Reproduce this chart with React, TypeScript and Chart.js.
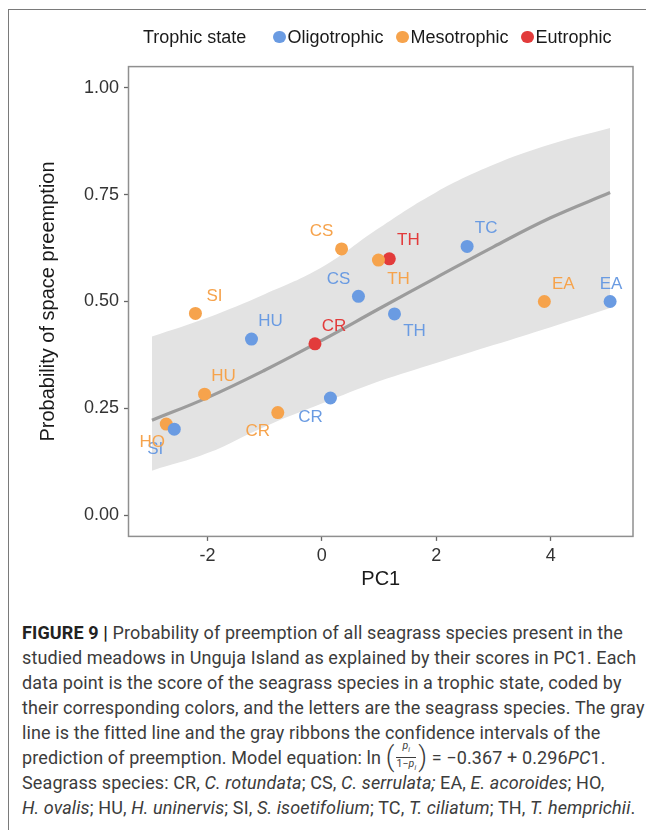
import React, { useEffect, useRef } from "react";
import { Chart, registerables } from "chart.js";

Chart.register(...registerables);

// ---------- data ----------
const fitPC1 = [-2.97, -2, -1, 0, 1, 2, 3, 4, 5.04];
const fitProb = [0.222, 0.275, 0.339, 0.409, 0.483, 0.556, 0.628, 0.696, 0.755];
const ribbonUpper = [0.418, 0.462, 0.517, 0.58, 0.672, 0.756, 0.82, 0.868, 0.906];
const ribbonLower = [0.104, 0.145, 0.207, 0.261, 0.313, 0.356, 0.398, 0.44, 0.485];

const oligoSpecies = ["TC", "CS", "TH", "EA", "HU", "CR", "SI"];
const oligoPC1 = [2.54, 0.64, 1.27, 5.04, -1.23, 0.15, -2.58];
const oligoProb = [0.629, 0.512, 0.471, 0.5, 0.412, 0.274, 0.201];

const mesoSpecies = ["SI", "CS", "TH", "EA", "HU", "CR", "HO"];
const mesoPC1 = [-2.21, 0.345, 0.99, 3.89, -2.05, -0.77, -2.72];
const mesoProb = [0.472, 0.623, 0.597, 0.5, 0.283, 0.24, 0.213];

const eutroSpecies = ["TH", "CR"];
const eutroPC1 = [1.18, -0.12];
const eutroProb = [0.6, 0.401];

const xTicks = [-2, 0, 2, 4];
const yTicks = [0, 0.25, 0.5, 0.75, 1];

const trophicStates = ["Oligotrophic", "Mesotrophic", "Eutrophic"];

// ---------- styling / label placement (pixels) ----------
const COLORS = ["#6a9be2", "#f6a34c", "#e23b3b"];
const oligoLabelOffsets = [[19, -18], [-20, -17], [20, 17], [1, -17], [19, -18], [-20, 19], [-19, 20]];
const mesoLabelOffsets = [[19, -17], [-20, -18], [20, 19], [19, -17], [19, -18], [-20, 19], [-14, 18]];
const eutroLabelOffsets = [[19, -18], [19, -17]];

const FONT = "'Liberation Sans', Arial, Helvetica, sans-serif";

const toXY = (xs: number[], ys: number[]) => xs.map((x, i) => ({ x, y: ys[i] }));

const panelBorder = {
  id: "panelBorder",
  afterDatasetsDraw(chart: any) {
    const { ctx, chartArea: a } = chart;
    ctx.save();
    ctx.strokeStyle = "#8f8f8f";
    ctx.lineWidth = 1.5;
    ctx.strokeRect(a.left, a.top, a.right - a.left, a.bottom - a.top);
    ctx.restore();
  },
};

const pointLabels = {
  id: "pointLabels",
  afterDatasetsDraw(chart: any) {
    const { ctx } = chart;
    ctx.save();
    ctx.font = `17px ${FONT}`;
    ctx.textAlign = "center";
    ctx.textBaseline = "middle";
    chart.data.datasets.forEach((ds: any, di: number) => {
      if (!ds.speciesLabels) return;
      const meta = chart.getDatasetMeta(di);
      meta.data.forEach((el: any, i: number) => {
        const off = ds.labelOffsets[i];
        ctx.fillStyle = ds.backgroundColor;
        ctx.fillText(ds.speciesLabels[i], el.x + off[0], el.y + off[1]);
      });
    });
    ctx.restore();
  },
};

function ChartCanvas() {
  const ref = useRef<HTMLCanvasElement | null>(null);
  useEffect(() => {
    if (!ref.current) return;
    const pointDs = (label: string, xs: number[], ys: number[], species: string[], offs: number[][], color: string) => ({
      label,
      data: toXY(xs, ys),
      showLine: false,
      pointRadius: 6.5,
      pointHoverRadius: 6.5,
      pointBorderWidth: 0,
      backgroundColor: color,
      borderColor: color,
      speciesLabels: species,
      labelOffsets: offs,
      order: 0,
    });
    const chart = new Chart(ref.current, {
      type: "line",
      data: {
        datasets: [
          {
            label: "lower",
            data: toXY(fitPC1, ribbonLower),
            borderWidth: 0,
            pointRadius: 0,
            fill: false,
            tension: 0.4,
            order: 3,
          } as any,
          {
            label: "upper",
            data: toXY(fitPC1, ribbonUpper),
            borderWidth: 0,
            pointRadius: 0,
            fill: "-1",
            backgroundColor: "#e3e3e3",
            tension: 0.4,
            order: 2,
          },
          {
            label: "fit",
            data: toXY(fitPC1, fitProb),
            borderColor: "#9c9c9c",
            borderWidth: 3.2,
            pointRadius: 0,
            fill: false,
            tension: 0.4,
            order: 1,
          },
          pointDs(trophicStates[0], oligoPC1, oligoProb, oligoSpecies, oligoLabelOffsets, COLORS[0]),
          pointDs(trophicStates[1], mesoPC1, mesoProb, mesoSpecies, mesoLabelOffsets, COLORS[1]),
          pointDs(trophicStates[2], eutroPC1, eutroProb, eutroSpecies, eutroLabelOffsets, COLORS[2]),
        ] as any,
      },
      options: {
        animation: false,
        responsive: false,
        maintainAspectRatio: false,
        layout: { padding: { left: 0, right: 21, top: 58.6, bottom: 0 } },
        plugins: { legend: { display: false }, tooltip: { enabled: false } },
        scales: {
          x: {
            type: "linear",
            min: -3.38,
            max: 5.44,
            afterBuildTicks: (s: any) => {
              s.ticks = xTicks.map((v) => ({ value: v }));
            },
            afterFit: (s: any) => {
              s.height = 71.6;
            },
            grid: { display: true, drawOnChartArea: false, drawTicks: true, tickLength: 4.5, tickColor: "#666", tickWidth: 1.3 },
            border: { display: false },
            ticks: { color: "#333", font: { family: FONT, size: 18 }, padding: 4, maxRotation: 0 },
            title: { display: true, text: "PC1", color: "#1a1a1a", font: { family: FONT, size: 20 }, padding: { top: 0, bottom: 17 } },
          },
          y: {
            type: "linear",
            min: -0.05,
            max: 1.05,
            afterBuildTicks: (s: any) => {
              s.ticks = yTicks.map((v) => ({ value: v }));
            },
            afterFit: (s: any) => {
              s.width = 120.5;
            },
            grid: { display: true, drawOnChartArea: false, drawTicks: true, tickLength: 4.5, tickColor: "#666", tickWidth: 1.3 },
            border: { display: false },
            ticks: {
              color: "#333",
              font: { family: FONT, size: 18 },
              padding: 5,
              callback: (v: any) => Number(v).toFixed(2),
            },
            title: {
              display: true,
              text: "Probability of space preemption",
              color: "#1a1a1a",
              font: { family: FONT, size: 20 },
              padding: { top: 28, bottom: 0 },
            },
          },
        },
      } as any,
      plugins: [panelBorder, pointLabels],
    });
    return () => chart.destroy();
  }, []);
  return <canvas ref={ref} width={646} height={600} style={{ position: "absolute", left: 0, top: 0, width: 646, height: 600 }} />;
}

function Legend() {
  const dot = (c: string) => (
    <span style={{ display: "inline-block", width: 12.5, height: 12.5, borderRadius: "50%", background: c, marginRight: 1.5 }} />
  );
  return (
    <div
      style={{
        position: "absolute",
        left: 135,
        top: 19,
        display: "flex",
        alignItems: "center",
        fontFamily: FONT,
        fontSize: 18,
        lineHeight: "20px",
        color: "#1a1a1a",
        whiteSpace: "nowrap",
      }}
    >
      <span style={{ marginRight: 27 }}>Trophic state</span>
      {trophicStates.map((t, i) => (
        <span key={t} style={{ display: "inline-flex", alignItems: "center", marginRight: 13 }}>
          {dot(COLORS[i])}
          {t}
        </span>
      ))}
    </div>
  );
}

function Caption() {
  const it = (s: string) => <i>{s}</i>;
  return (
    <div
      style={{
        position: "absolute",
        left: 14,
        top: 611.5,
        fontFamily: "Roboto, 'Liberation Sans', sans-serif",
        fontSize: 18,
        letterSpacing: 0.12,
        lineHeight: "25px",
        color: "#3c3c3c",
        whiteSpace: "nowrap",
      }}
    >
      <div>
        <b style={{ color: "#222" }}>FIGURE 9 |</b> Probability of preemption of all seagrass species present in the
      </div>
      <div>studied meadows in Unguja Island as explained by their scores in PC1. Each</div>
      <div>data point is the score of the seagrass species in a trophic state, coded by</div>
      <div>their corresponding colors, and the letters are the seagrass species. The gray</div>
      <div>line is the fitted line and the gray ribbons the confidence intervals of the</div>
      <div style={{ display: "flex", alignItems: "center", height: 25 }}>
        <span>prediction of preemption. Model equation: ln&nbsp;</span>
        <span style={{ fontSize: 27, lineHeight: "25px", fontWeight: 300 }}>(</span>
        <span style={{ display: "inline-flex", flexDirection: "column", alignItems: "center", fontSize: 10.5, lineHeight: "10px", margin: "0 2px" }}>
          <span style={{ fontStyle: "italic", paddingBottom: 1 }}>
            p<sub style={{ fontSize: 7 }}>i</sub>
          </span>
          <span style={{ borderTop: "1px solid #3c3c3c", paddingTop: 1 }}>
            1−<i>p</i>
            <sub style={{ fontSize: 7, fontStyle: "italic" }}>i</sub>
          </span>
        </span>
        <span style={{ fontSize: 27, lineHeight: "25px", fontWeight: 300 }}>)</span>
        <span>
          &nbsp;= −0.367 + 0.296<i>PC</i>1.
        </span>
      </div>
      <div>
        Seagrass species: CR, {it("C. rotundata")}; CS, {it("C. serrulata;")} EA, {it("E. acoroides")}; HO,
      </div>
      <div>
        {it("H. ovalis")}; HU, {it("H. uninervis")}; SI, {it("S. isoetifolium")}; TC, {it("T. ciliatum")}; TH, {it("T. hemprichii")}.
      </div>
    </div>
  );
}

export default function App() {
  return (
    <div style={{ position: "relative", width: 646, height: 822 }}>
      <div style={{ position: "absolute", left: 0, top: 0.5, width: 646, height: 1.5, background: "#7a7a7a" }} />
      <div style={{ position: "absolute", left: -0.5, top: 0.5, width: 1.5, height: 821.5, background: "#7a7a7a" }} />
      <ChartCanvas />
      <Legend />
      <Caption />
    </div>
  );
}
